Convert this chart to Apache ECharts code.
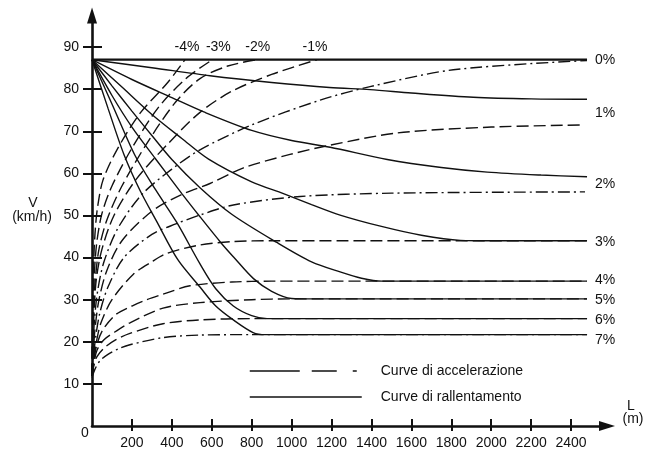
<!DOCTYPE html>
<html><head><meta charset="utf-8">
<script src="https://cdn.jsdelivr.net/npm/echarts@6/dist/echarts.min.js"></script>
<style>html,body{margin:0;padding:0;background:#fff}#c{width:648px;height:453px}</style>
</head><body><div id="c"></div>
<script>
// ---- axis ticks ----
const xTicks = [200,400,600,800,1000,1200,1400,1600,1800,2000,2200,2400];
const yTicks = [10,20,30,40,50,60,70,80,90];

// ---- grade labels ----
const downGrades = ['-4%','-3%','-2%','-1%'];
const upGrades = ['0%','1%','2%','3%','4%','5%','6%','7%'];

// ---- acceleration curves (dashed): [L (m), V (km/h)] ----
const accM4 = [[0,12],[2,22],[5,32],[10,41],[17,47],[28,52],[55,58.4],[125,65.6],[241,74.3],[376,81.4],[466,87]];
const accM3 = [[0,12],[3,21],[7,30],[14,38],[25,44],[50,50.5],[100,57],[200,66],[330,75.5],[470,82.5],[603,87]];
const accM2 = [[0,12],[3,20],[8,28],[17,35],[35,42],[75,49],[150,57],[280,67.5],[420,77],[541,82.5],[680,85.5],[825,87]];
const accM1 = [[0,12],[4,19],[10,27],[22,35],[50,42],[110,50],[220,58.5],[380,67],[541,74.5],[700,79.5],[900,83.5],[1127,87]];
const acc0 = [[0,12],[5,18],[12,25],[28,32],[60,39],[130,47],[250,55],[400,61],[541,65.6],[800,71.5],[1143,77.4],[1393,80.6],[1810,84.6],[2480,86.8]];
const acc1 = [[0,12],[6,17],[15,23],[35,30],[75,37],[150,44],[300,51],[450,55],[591,57.6],[759,61.3],[992,64.5],[1193,66.7],[1528,69.6],[2000,71],[2460,71.5]];
const acc2 = [[0,12],[7,16],[18,21],[40,27],[80,33],[160,40],[300,45.5],[420,48],[541,50.1],[708,52.5],[1043,54.5],[1500,55.3],[2470,55.6]];
const acc3 = [[0,12],[8,15.5],[20,19.5],[45,24.5],[100,30],[206,36],[300,39],[376,41],[541,43],[708,43.8],[900,44],[2480,44]];
const acc4 = [[0,12],[8,15],[20,18.5],[50,22.5],[120,26.5],[200,28.5],[275,30],[356,31.3],[491,33.3],[700,34.2],[900,34.4],[2480,34.4]];
const acc5 = [[0,12],[10,15],[25,18],[60,20.5],[120,22.5],[190,24.5],[356,28],[541,29.3],[800,30],[1000,30.2],[2480,30.2]];
const acc6 = [[0,12],[10,14.5],[25,16.5],[60,18.5],[120,20.5],[190,22],[356,24.3],[541,25.2],[800,25.5],[2480,25.5]];
const acc7 = [[0,11.5],[15,13.5],[40,15.5],[80,17],[130,18.3],[190,19.3],[356,21],[541,21.6],[800,21.7],[2480,21.7]];

// ---- deceleration curves (solid): [L (m), V (km/h)] ----
const dec0 = [[0,87],[2480,87]];
const dec1 = [[0,87],[300,85.1],[591,83.2],[900,81.6],[1190,80.4],[1393,79.9],[1600,79.1],[1910,78.1],[2200,77.7],[2480,77.6]];
const dec2 = [[0,87],[200,82.3],[400,78],[560,74.6],[800,70.2],[1000,67.8],[1193,66.2],[1479,63.3],[1750,61.4],[1980,60.3],[2250,59.6],[2480,59.2]];
const dec3 = [[0,87],[150,80.5],[300,74],[450,68.3],[584,63.4],[800,58],[959,55.2],[1100,52.6],[1243,50.1],[1450,47.4],[1650,45.3],[1845,44.1],[2000,44],[2480,44]];
const dec4 = [[0,87],[100,80.8],[200,74.8],[300,69],[400,63.3],[541,56.6],[700,50.3],[926,43.6],[1100,39],[1243,36.6],[1350,35.1],[1452,34.4],[2480,34.4]];
const dec5 = [[0,87],[100,78.5],[200,71],[316,63.6],[450,55.2],[541,49.7],[650,43.3],[708,40.2],[809,35],[900,32],[1000,30.3],[1100,30.2],[2480,30.2]];
const dec6 = [[0,87],[100,76.5],[215,64.3],[320,56],[424,48.4],[541,38.5],[620,32.6],[708,28.5],[800,26.2],[877,25.5],[2480,25.5]];
const dec7 = [[0,87],[80,75.5],[160,64.5],[240,56],[324,48.6],[430,39.5],[541,33],[620,28.5],[708,25.2],[807,22.2],[870,21.7],[2480,21.7]];

const ACC = 'Curve di accelerazione';
const DEC = 'Curve di rallentamento';
const INK = '#111';
const FONT = '"Liberation Sans", Arial, sans-serif';
const DASH = [12, 5];
const DASHDOT = [12, 4, 2, 4];

function curve(name, data, opts) {
  const s = {
    type: 'line', name: name, data: data,
    xAxisIndex: 0, yAxisIndex: 0,
    symbol: 'none', showSymbol: false,
    smooth: 0.3,
    color: INK,
    silent: true, emphasis: {disabled: true},
    lineStyle: {color: INK, width: opts.width || 1.4, type: opts.dash || 'solid'},
    z: opts.z || 2
  };
  if (opts.label) {
    s.endLabel = Object.assign({
      show: true, formatter: opts.label, color: INK,
      fontSize: 14, fontFamily: FONT
    }, opts.labelStyle);
  }
  return s;
}
const topLbl = (dx) => ({align: 'center', verticalAlign: 'bottom', distance: 0, offset: [dx, -6]});
const rightLbl = (dy) => ({align: 'left', verticalAlign: 'middle', distance: 8, offset: [0, dy]});

const series = [
  curve(ACC, accM4, {dash: DASH, label: downGrades[0], labelStyle: topLbl(2)}),
  curve(ACC, accM3, {dash: DASH, label: downGrades[1], labelStyle: topLbl(6)}),
  curve(ACC, accM2, {dash: DASH, label: downGrades[2], labelStyle: topLbl(1)}),
  curve(ACC, accM1, {dash: DASH, label: downGrades[3], labelStyle: topLbl(-2)}),
  curve(ACC, acc0, {dash: DASHDOT}),
  curve(ACC, acc1, {dash: DASH}),
  curve(ACC, acc2, {dash: DASHDOT}),
  curve(ACC, acc3, {dash: DASH}),
  curve(ACC, acc4, {dash: DASH}),
  curve(ACC, acc5, {dash: DASH}),
  curve(ACC, acc6, {dash: DASH}),
  curve(ACC, acc7, {dash: DASHDOT}),
  curve(DEC, dec0, {width: 2.2, z: 3, label: upGrades[0], labelStyle: rightLbl(0)}),
  curve(DEC, dec1, {label: upGrades[1], labelStyle: rightLbl(14)}),
  curve(DEC, dec2, {label: upGrades[2], labelStyle: rightLbl(7)}),
  curve(DEC, dec3, {label: upGrades[3], labelStyle: rightLbl(1)}),
  curve(DEC, dec4, {label: upGrades[4], labelStyle: rightLbl(-1)}),
  curve(DEC, dec5, {label: upGrades[5], labelStyle: rightLbl(1)}),
  curve(DEC, dec6, {label: upGrades[6], labelStyle: rightLbl(2)}),
  curve(DEC, dec7, {label: upGrades[7], labelStyle: rightLbl(6)})
];

const xCommon = {type: 'value', min: 0, max: 2580, gridIndex: 0, splitLine: {show: false}};
const yCommon = {type: 'value', min: 0, max: 97.5, gridIndex: 0, splitLine: {show: false}};
const plain = (v) => String(v);

const option = {
  animation: false,
  backgroundColor: '#fff',
  textStyle: {fontFamily: FONT, color: INK},
  grid: {left: 92, right: 41, top: 15.5, bottom: 27, containLabel: false},
  xAxis: [
    Object.assign({}, xCommon, {
      position: 'bottom',
      axisLine: {show: true, lineStyle: {color: INK, width: 2.6}, symbol: ['none', 'triangle'], symbolSize: [10, 16]},
      axisTick: {show: true, inside: false, length: 5, lineStyle: {color: INK, width: 2}, customValues: xTicks},
      axisLabel: {show: true, margin: 10, fontSize: 14, color: INK, fontFamily: FONT, customValues: xTicks, formatter: plain}
    }),
    Object.assign({}, xCommon, {
      position: 'bottom',
      axisLine: {show: false},
      axisTick: {show: true, inside: true, length: 7, lineStyle: {color: INK, width: 2}, customValues: xTicks},
      axisLabel: {show: false}
    })
  ],
  yAxis: [
    Object.assign({}, yCommon, {
      position: 'left',
      axisLine: {show: true, lineStyle: {color: INK, width: 2.6}, symbol: ['none', 'triangle'], symbolSize: [10, 16]},
      axisTick: {show: true, inside: false, length: 9, lineStyle: {color: INK, width: 2}, customValues: yTicks},
      axisLabel: {show: true, margin: 13, fontSize: 14, color: INK, fontFamily: FONT, customValues: yTicks, formatter: plain}
    }),
    Object.assign({}, yCommon, {
      position: 'left',
      axisLine: {show: false},
      axisTick: {show: true, inside: true, length: 10, lineStyle: {color: INK, width: 2}, customValues: yTicks},
      axisLabel: {show: false}
    })
  ],
  legend: {
    show: true, orient: 'vertical', left: 244, top: 359,
    itemWidth: 112, itemHeight: 14, itemGap: 12,
    selectedMode: false,
    itemStyle: {color: 'rgba(0,0,0,0)', borderColor: 'rgba(0,0,0,0)', borderWidth: 0},
    textStyle: {fontSize: 14, color: INK, fontFamily: FONT, padding: [0, 0, 0, 14]},
    data: [
      {name: ACC, lineStyle: {type: [50, 12, 25, 16, 4, 200], width: 1.5, color: INK}},
      {name: DEC, lineStyle: {width: 1.5, color: INK}}
    ]
  },
  graphic: [
    {type: 'text', x: 33, y: 203, style: {text: 'V', align: 'center', verticalAlign: 'middle', font: '14px ' + FONT, fill: INK}},
    {type: 'text', x: 32, y: 217, style: {text: '(km/h)', align: 'center', verticalAlign: 'middle', font: '14px ' + FONT, fill: INK}},
    {type: 'text', x: 631, y: 406, style: {text: 'L', align: 'center', verticalAlign: 'middle', font: '14px ' + FONT, fill: INK}},
    {type: 'text', x: 633, y: 419, style: {text: '(m)', align: 'center', verticalAlign: 'middle', font: '14px ' + FONT, fill: INK}},
    {type: 'text', x: 85, y: 433, style: {text: '0', align: 'center', verticalAlign: 'middle', font: '14px ' + FONT, fill: INK}}
  ],
  series: series
};
const chart = echarts.init(document.getElementById('c'));
chart.setOption(option);
</script>
</body></html>
